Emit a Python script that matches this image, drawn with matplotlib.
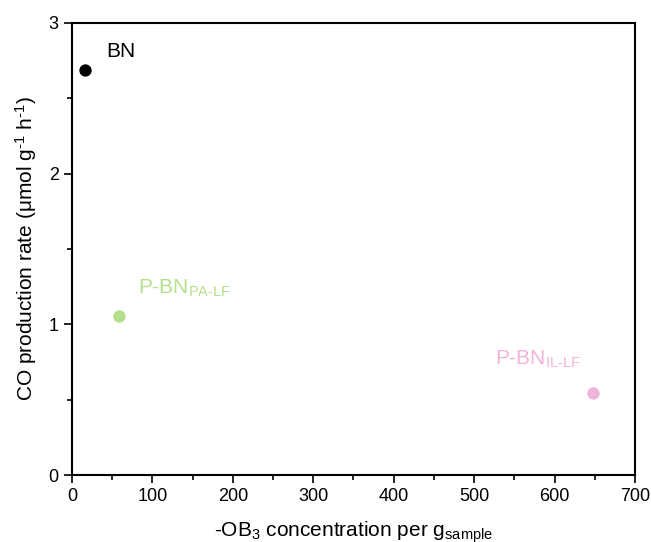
import numpy as np
import matplotlib
matplotlib.use('Agg', force=True)
import matplotlib.pyplot as plt
from matplotlib.ticker import MultipleLocator

plt.rcParams['font.family'] = ['Liberation Sans', 'DejaVu Sans']
plt.rcParams['mathtext.fontset'] = 'custom'
plt.rcParams['mathtext.rm'] = 'Liberation Sans'
plt.rcParams['mathtext.it'] = 'Liberation Sans'

# data
samples = ['BN', 'P-BN$_{\\mathrm{PA\\text{-}LF}}$', 'P-BN$_{\\mathrm{IL\\text{-}LF}}$']
ob3_conc = [16, 58, 648]
co_rate = [2.69, 1.055, 0.544]
colors = ['#000000', '#b5e08a', '#f0b3d9']
label_xy = [(42, 2.81), (82, 1.24), (526, 0.77)]

fig = plt.figure(figsize=(6.51, 5.42), dpi=100)
ax = fig.add_axes([0.1106, 0.1236, 0.8648, 0.834])

for x, y, c, name, (lx, ly) in zip(ob3_conc, co_rate, colors, samples, label_xy):
    ax.scatter(x, y, s=62, color=c, zorder=3)
    ax.text(lx, ly, name, color=c, fontsize=15, va='center', ha='left')

ax.set_xlim(0, 700)
ax.set_ylim(0, 3)
ax.xaxis.set_major_locator(MultipleLocator(100))
ax.xaxis.set_minor_locator(MultipleLocator(50))
ax.yaxis.set_major_locator(MultipleLocator(1))
ax.yaxis.set_minor_locator(MultipleLocator(0.5))
ax.tick_params(which='both', direction='out', width=1.2, labelsize=13, top=False, right=False)
ax.tick_params(which='major', length=6)
ax.tick_params(which='minor', length=3.5)
for s in ax.spines.values():
    s.set_linewidth(1.5)

ax.set_xlabel('-OB$_3$ concentration per g$_{\\mathrm{sample}}$', fontsize=15, labelpad=10)
ax.set_ylabel('CO production rate (\u03bcmol g$^{\\text{-}1}$ h$^{\\text{-}1}$)', fontsize=15, labelpad=7)

plt.savefig('out.png', dpi=100)
